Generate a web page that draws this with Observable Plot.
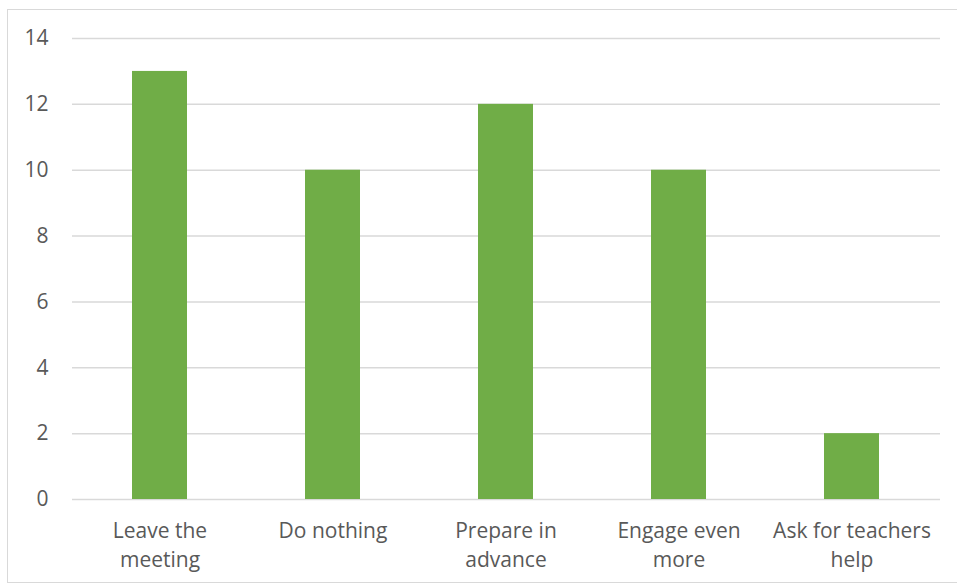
<!DOCTYPE html>
<html><head><meta charset="utf-8">
<script src="https://cdn.jsdelivr.net/npm/d3@7"></script>
<script src="https://cdn.jsdelivr.net/npm/@observablehq/plot@0.6"></script>
<style>
html,body{margin:0;padding:0;background:#fff;}
#frame{position:absolute;left:7px;top:9px;width:960px;height:574px;border:1.5px solid #d9d9d9;box-sizing:border-box;}
#chart{position:absolute;left:0;top:0;}
</style>
</head><body>
<div id="frame"></div>
<div id="chart"></div>
<script>
const categories = ["Leave the meeting", "Do nothing", "Prepare in advance", "Engage even more", "Ask for teachers help"];
const tickLabels = ["Leave the\nmeeting", "Do nothing", "Prepare in\nadvance", "Engage even\nmore", "Ask for teachers\nhelp"];
const values = [13, 10, 12, 10, 2];
const yTicks = [0, 2, 4, 6, 8, 10, 12, 14];

const data = categories.map((c, i) => ({category: c, value: values[i]}));
const labelOf = new Map(categories.map((c, i) => [c, tickLabels[i]]));

const chart = Plot.plot({
  width: 957,
  height: 587,
  marginLeft: 72,
  marginRight: 17,
  marginTop: 38,
  marginBottom: 88,
  style: {fontFamily: "'Open Sans', Lato, sans-serif", fontSize: "21px", color: "#595959", background: "transparent"},
  x: {domain: categories, paddingInner: 0.68, paddingOuter: 0.34, label: null},
  y: {domain: [0, 14], label: null},
  marks: [
    Plot.gridY(yTicks, {stroke: "#d9d9d9", strokeOpacity: 1, strokeWidth: 1.5}),
    Plot.barY(data, {x: "category", y: "value", fill: "#70ad47"}),
    Plot.axisY(yTicks, {tickSize: 0, tickPadding: 24, fill: "#595959", fontSize: 21}),
    Plot.axisX({tickSize: 0, tickPadding: 18, tickFormat: d => labelOf.get(d), fill: "#595959", fontSize: 21, lineHeight: 1.38})
  ]
});
document.getElementById("chart").appendChild(chart);
</script>
</body></html>
